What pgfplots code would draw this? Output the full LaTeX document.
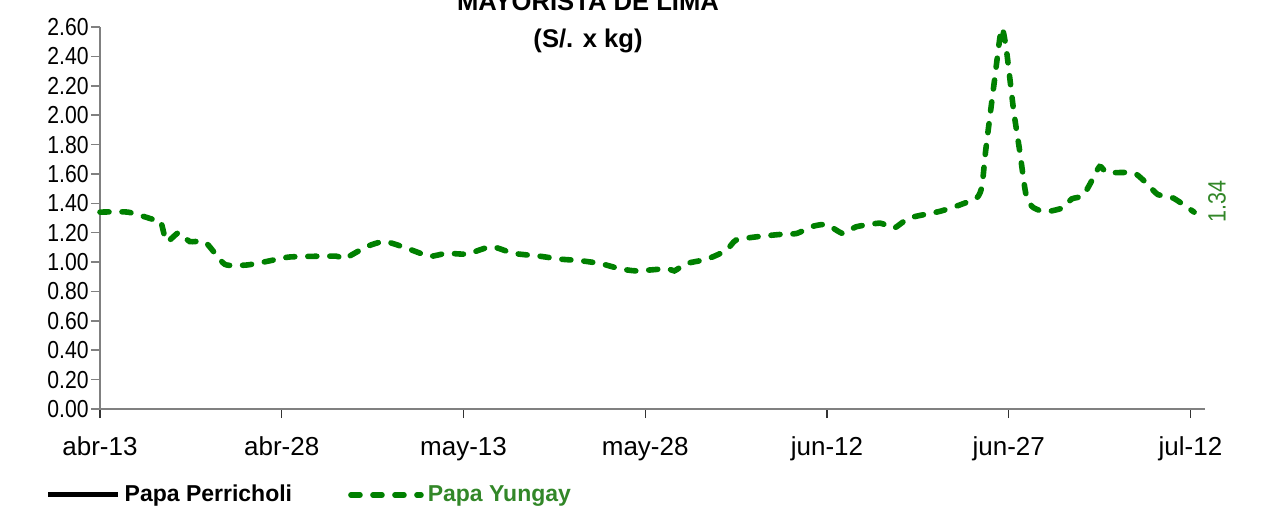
\documentclass[border=0pt]{standalone}
\usepackage{fontspec}
\setmainfont{Liberation Sans}
\newfontfamily\narrowfont{Liberation Sans}[FakeStretch=0.86]
\usepackage{pgfplots}
\pgfplotsset{compat=1.18}
\definecolor{linegreen}{RGB}{0,128,0}
\definecolor{textgreen}{RGB}{50,135,40}
\definecolor{axgray}{RGB}{128,128,128}

\pgfplotstableread{
x y
0 1.34
2.3 1.34
4.4 1.29
5.0 1.28
5.5 1.14
6.5 1.20
7.4 1.14
8.7 1.135
10.3 0.985
12.1 0.98
13.8 1.005
15.7 1.035
19.5 1.04
20.1 1.02
22.0 1.105
23.5 1.14
25.3 1.095
27.2 1.04
28.6 1.06
30.3 1.055
32.3 1.105
34.1 1.06
36.3 1.04
38.0 1.02
39.6 1.01
41.3 0.99
42.9 0.955
44.3 0.94
46.8 0.955
47.4 0.94
48.4 0.99
50.1 1.02
51.7 1.08
52.5 1.15
54.5 1.175
56.4 1.19
57.5 1.195
58.9 1.245
60.0 1.255
61.3 1.195
62.4 1.24
64.4 1.265
65.5 1.23
66.8 1.30
69.3 1.345
71.0 1.39
72.4 1.44
72.8 1.52
73.1 1.76
73.8 2.22
74.4 2.59
74.8 2.45
75.4 2.035
75.9 1.76
76.4 1.47
76.9 1.38
77.6 1.35
78.3 1.345
79.5 1.37
80.2 1.43
81.1 1.45
81.7 1.53
82.5 1.65
83.1 1.61
84.7 1.61
85.5 1.60
86.4 1.535
87.3 1.46
88.6 1.435
90.3 1.34
}\yungay

\begin{document}
\begin{tikzpicture}
\begin{axis}[
  scale only axis,
  width=552.5pt, height=191pt,
  at={(0pt,0pt)}, anchor=south west,
  xmin=0, xmax=91.2, ymin=0, ymax=2.6,
  clip=false,
  axis x line*=bottom, axis y line*=left,
  axis line style={axgray, line width=1pt},
  tick align=outside,
  major tick length=4.5pt,
  xtick={0,15,30,45,60,75,90},
  xticklabels={abr-13,abr-28,may-13,may-28,jun-12,jun-27,jul-12},
  ytick={0,0.2,0.4,0.6,0.8,1.0,1.2,1.4,1.6,1.8,2.0,2.2,2.4,2.6},
  x tick style={black!80, line width=0.6pt},
  y tick style={axgray, line width=0.8pt},
  /pgf/number format/assume math mode=true,
  yticklabel style={font=\narrowfont\fontsize{12.3}{12.3}\selectfont, inner sep=1pt,
    /pgf/number format/.cd, fixed, fixed zerofill, precision=2},
  xticklabel style={font=\fontsize{13}{13}\selectfont, yshift=-6pt},
  legend style={at={(-0.0495,-0.225)}, anchor=west, draw=none, fill=none,
    legend columns=2, font=\bfseries\fontsize{11.5}{12}\selectfont,
    /tikz/every even column/.append style={column sep=26pt},
    inner sep=0pt, row sep=0pt},
  legend cell align=left,
  legend image code/.code={\draw[#1] (0pt,0pt) -- (35pt,0pt);},
]
\addlegendimage{black, line width=2.5pt}
\addlegendentry{Papa Perricholi}
\addplot[linegreen, line width=2.8pt, line cap=round,
  dash pattern=on 4.5pt off 6.5pt, smooth, tension=0.35] table[x=x,y=y] {\yungay};
\addlegendentry{\textcolor{textgreen}{Papa Yungay}}
\node[rotate=90, text=textgreen, font=\narrowfont\fontsize{12.5}{12.5}\selectfont]
  at (axis cs:92.2,1.415) {1.34};
\end{axis}
\node[anchor=base, font=\bfseries\fontsize{12.8}{13}\selectfont] at (244pt,199pt) {MAYORISTA DE LIMA};
\node[anchor=base, font=\bfseries\fontsize{12.8}{13}\selectfont] at (244pt,180.5pt) {(S/. x kg)};
\pgfresetboundingbox
\path[use as bounding box] (-50pt,-53pt) rectangle (583.5pt,204.5pt);
\end{tikzpicture}
\end{document}
